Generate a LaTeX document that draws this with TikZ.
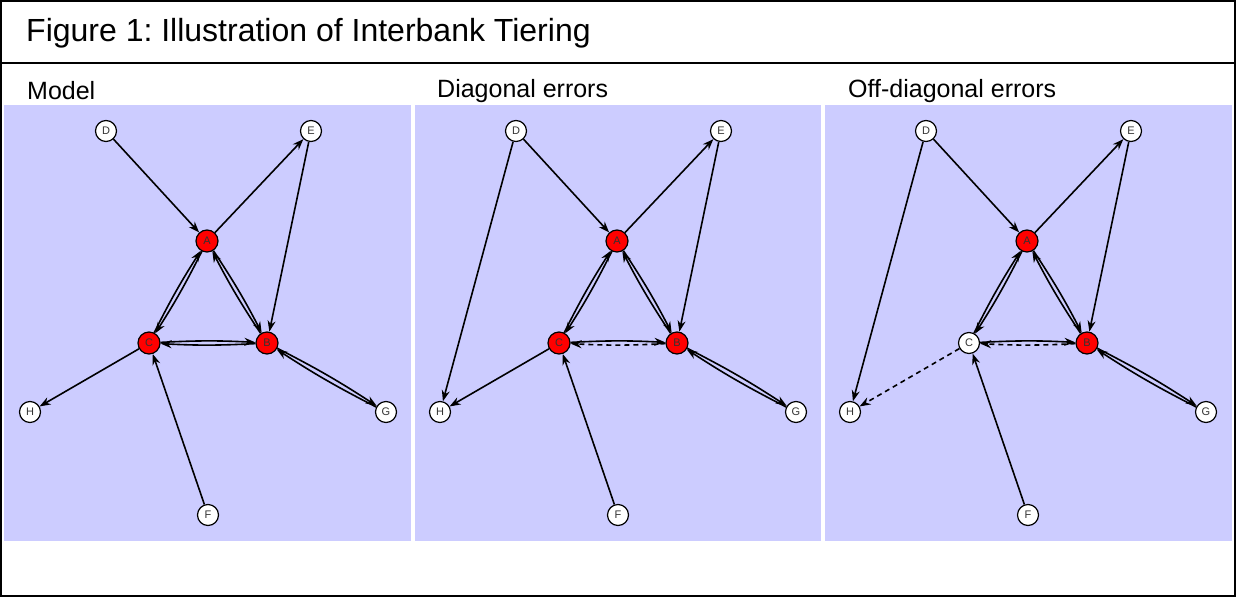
\documentclass[tikz,border=0pt]{standalone}
\usepackage{fontspec}
\setmainfont{Liberation Sans}
\usetikzlibrary{arrows.meta}
\frenchspacing
\definecolor{lav}{RGB}{204,204,255}
\tikzset{
  bank/.style={circle,draw=black,line width=1.2pt,minimum size=21pt,inner sep=0pt,
    font=\fontsize{11}{11}\selectfont,text=black!80,fill=white},
  core/.style={bank,fill=red,minimum size=22pt},
  link/.style={line width=1.6pt,-{Stealth[length=11pt,width=8pt]}},
  pair/.style={link,bend left=3},
  err/.style={dash pattern=on 5pt off 4pt},
  paneltitle/.style={anchor=west,font=\fontsize{25}{28}\selectfont,inner sep=0pt},
}
\newcommand\bankpanel[3]{%
  \begin{scope}[xshift=#2]
    \node[bank] (#1D) at (106,131) {D};
    \node[bank] (#1E) at (311,131) {E};
    \node[core] (#1A) at (207,241) {A};
    \node[#3]   (#1C) at (149,343) {C};
    \node[core] (#1B) at (267,343) {B};
    \node[bank] (#1H) at (30,412) {H};
    \node[bank] (#1G) at (386,412) {G};
    \node[bank] (#1F) at (208,515) {F};
  \end{scope}
  \draw[link] (#1D) -- (#1A);
  \draw[link] (#1A) -- (#1E);
  \draw[link] (#1E) -- (#1B);
  \draw[pair] (#1A) to (#1C);
  \draw[pair] (#1C) to (#1A);
  \draw[pair] (#1A) to (#1B);
  \draw[pair] (#1B) to (#1A);
  \draw[pair] (#1C) to (#1B);
  \draw[pair] (#1B) to (#1G);
  \draw[pair] (#1G) to (#1B);
  \draw[link] (#1F) -- (#1C);
}
\begin{document}
\begin{tikzpicture}[x=1pt,y=-1pt]
  \useasboundingbox (0,0) rectangle (1236,597);
  \fill[white] (0,0) rectangle (1236,597);
  \fill[lav] (4,105) rectangle (411,541);
  \fill[lav] (415,105) rectangle (821,541);
  \fill[lav] (825,105) rectangle (1232,541);
  \draw[line width=2pt] (1,1) rectangle (1235,596);
  \draw[line width=2pt] (1,63) -- (1235,63);
  \node[anchor=west,font=\fontsize{32}{36}\selectfont,inner sep=0pt] (title) at (26,33) {Figure 1: Illustration of Interbank Tiering};
  \node[paneltitle] (t1) at (27,91) {Model};
  \node[paneltitle] (t2) at (437,91) {Diagonal errors};
  \node[paneltitle] (t3) at (848,91) {Off-diagonal errors};
  % panel 1
  \bankpanel{a}{0}{core}
  \draw[pair] (aB) to (aC);
  \draw[link] (aC) -- (aH);
  % panel 2
  \bankpanel{b}{410}{core}
  \draw[pair,err] (bB) to (bC);
  \draw[link] (bC) -- (bH);
  \draw[link] (bD) -- (bH);
  % panel 3
  \bankpanel{c}{820}{bank}
  \draw[pair,err] (cB) to (cC);
  \draw[link,err] (cC) -- (cH);
  \draw[link] (cD) -- (cH);
\end{tikzpicture}
\end{document}
